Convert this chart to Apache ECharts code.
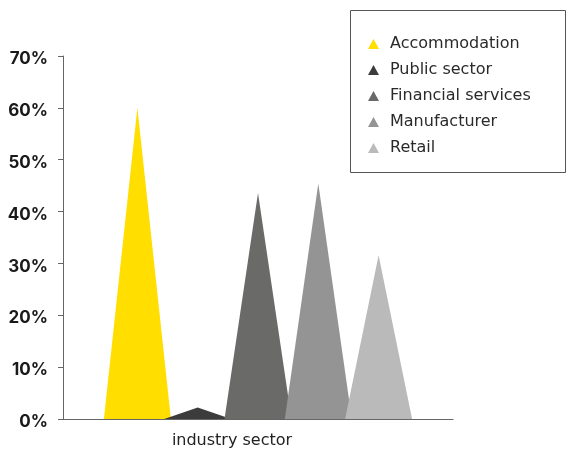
<!DOCTYPE html>
<html><head><meta charset="utf-8">
<script src="https://cdn.jsdelivr.net/npm/echarts@6/dist/echarts.min.js"></script>
<style>html,body{margin:0;padding:0;background:#fff}#c{width:566px;height:450px}</style>
</head><body><div id="c"></div>
<script>
const categories = ['industry sector'];
const seriesNames = ['Accommodation', 'Public sector', 'Financial services', 'Manufacturer', 'Retail'];
const seriesValues = [60, 2.2, 43.6, 45.4, 31.6];
const seriesColors = ['#FFDE00', '#3c3c3c', '#6a6a68', '#949494', '#bababa'];
const yTicks = { min: 0, max: 70, interval: 10 };

const chart = echarts.init(document.getElementById('c'), null, { renderer: 'canvas' });
const series = seriesNames.map((n, i) => ({
  name: n,
  type: 'pictorialBar',
  symbol: 'triangle',
  symbolSize: ['100%', '100%'],
  barWidth: 67,
  barGap: '-10%',
  itemStyle: { color: seriesColors[i] },
  data: [seriesValues[i]]
}));
const yLabelStyle = { fontFamily: 'Inter', fontWeight: 'bold', fontSize: 17, color: '#1a1a1a' };
chart.setOption({
  animation: false,
  grid: { left: 63, right: 113, top: 56, bottom: 31 },
  legend: {
    orient: 'vertical', left: 368, top: 36, itemGap: 10,
    itemWidth: 11, itemHeight: 10, icon: 'triangle', padding: 0,
    textStyle: { fontFamily: 'DejaVu Sans', fontSize: 16, color: '#2a2a2a', padding: [0, 0, 0, 6] },
    data: seriesNames
  },
  graphic: [{ type: 'rect', shape: { x: 350.5, y: 10.5, width: 215, height: 162 }, style: { fill: 'none', stroke: '#555', lineWidth: 1 } }],
  xAxis: {
    type: 'category', data: categories,
    axisLine: { lineStyle: { color: '#666' } },
    axisTick: { show: false },
    axisLabel: { fontFamily: 'DejaVu Sans', fontSize: 16, color: '#222', margin: 14, padding: [0, 52, 0, 0] }
  },
  yAxis: {
    type: 'value', min: yTicks.min, max: yTicks.max, interval: yTicks.interval,
    axisLine: { show: true, lineStyle: { color: '#666' } },
    axisTick: { show: true, length: 5, lineStyle: { color: '#666' } },
    splitLine: { show: false },
    axisLabel: {
      formatter: v => '{a|' + v + '%}',
      margin: 15,
      rich: { a: Object.assign({ padding: [6, 0, 0, 0] }, yLabelStyle) }
    }
  },
  series: series
});
</script></body></html>
